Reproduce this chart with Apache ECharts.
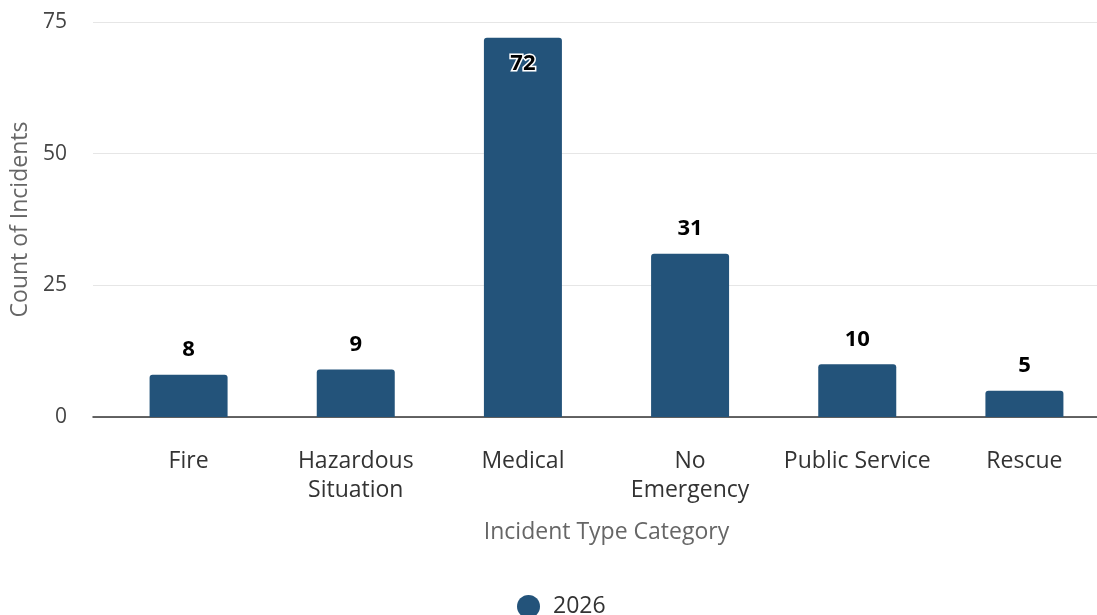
<!DOCTYPE html>
<html>
<head>
<meta charset="utf-8">
<style>
  html, body { margin: 0; padding: 0; background: #ffffff; }
  #chart { width: 1097px; height: 615px; }
</style>
<script src="https://cdn.jsdelivr.net/npm/echarts@6/dist/echarts.min.js"></script>
</head>
<body>
<div id="chart"></div>
<script>
// Incident counts by type category
const categories = ['Fire', 'Hazardous Situation', 'Medical', 'No Emergency', 'Public Service', 'Rescue'];
const counts2026 = [8, 9, 72, 31, 10, 5];
const seriesName = '2026';
const yTicks = [0, 25, 50, 75];

const FONT = 'Open Sans';
const BAR = '#23537a';
const yMax = yTicks[yTicks.length - 1];
const yStep = yTicks[1] - yTicks[0];

// Values close to the top of the scale carry their label inside the bar
const barData = counts2026.map(v => (v > yMax * 0.9)
  ? { value: v, label: { position: 'insideTop', distance: 15 } }
  : v);

// Two-word names wrap onto two lines, except "Public Service"
const wrapLabel = v => (v === 'Public Service' ? v : v.split(' ').join('\n'));

const chart = echarts.init(document.getElementById('chart'), null, { renderer: 'canvas' });

chart.setOption({
  animation: false,
  textStyle: { fontFamily: FONT },
  grid: [
    // background grid: value gridlines and the baseline
    { left: 93, right: 0, top: 22, bottom: 198, outerBoundsMode: 'none', containLabel: false },
    // plotting grid for the bars (runs slightly past the right edge)
    { left: 105, width: 1003, top: 22, bottom: 198, outerBoundsMode: 'none', containLabel: false }
  ],
  legend: {
    data: [{ name: seriesName, icon: 'circle' }],
    top: 590,
    left: 512,
    itemWidth: 23,
    itemHeight: 23,
    itemGap: 12,
    textStyle: { fontFamily: FONT, fontSize: 23, color: '#333333', padding: [0, 0, 0, 8] }
  },
  xAxis: [
    {
      gridIndex: 0, type: 'value', min: 0, max: 1,
      axisLine: { show: true, onZero: false, lineStyle: { color: '#333333', width: 1.5 } },
      axisTick: { show: false }, axisLabel: { show: false }, splitLine: { show: false }
    },
    {
      gridIndex: 1, type: 'category', data: categories,
      axisLine: { show: false }, axisTick: { show: false },
      axisLabel: {
        interval: 0, margin: 30, color: '#333333', fontFamily: FONT, fontSize: 23, lineHeight: 29,
        formatter: wrapLabel
      },
      name: 'Incident Type Category', nameLocation: 'middle', nameGap: 104,
      nameTextStyle: { color: '#666666', fontFamily: FONT, fontSize: 23 }
    }
  ],
  yAxis: [
    {
      gridIndex: 0, type: 'value', min: 0, max: yMax, interval: yStep,
      axisLine: { show: false }, axisTick: { show: false },
      axisLabel: { margin: 26, color: '#444444', fontFamily: FONT, fontSize: 21 },
      splitLine: { lineStyle: { color: '#e6e6e6', width: 1 } },
      name: 'Count of Incidents', nameLocation: 'middle', nameGap: 50,
      nameTextStyle: { color: '#666666', fontFamily: FONT, fontSize: 23 }
    },
    {
      gridIndex: 1, type: 'value', min: 0, max: yMax, interval: yStep,
      show: false
    }
  ],
  series: [{
    name: seriesName,
    type: 'bar',
    xAxisIndex: 1, yAxisIndex: 1,
    data: barData,
    barWidth: 78,
    itemStyle: { color: BAR, borderRadius: [3, 3, 0, 0] },
    label: {
      show: true, position: 'top', distance: 14,
      color: '#000000', fontFamily: FONT, fontSize: 22, fontWeight: 'bold',
      textBorderColor: '#ffffff', textBorderWidth: 3
    }
  }]
});
</script>
</body>
</html>
